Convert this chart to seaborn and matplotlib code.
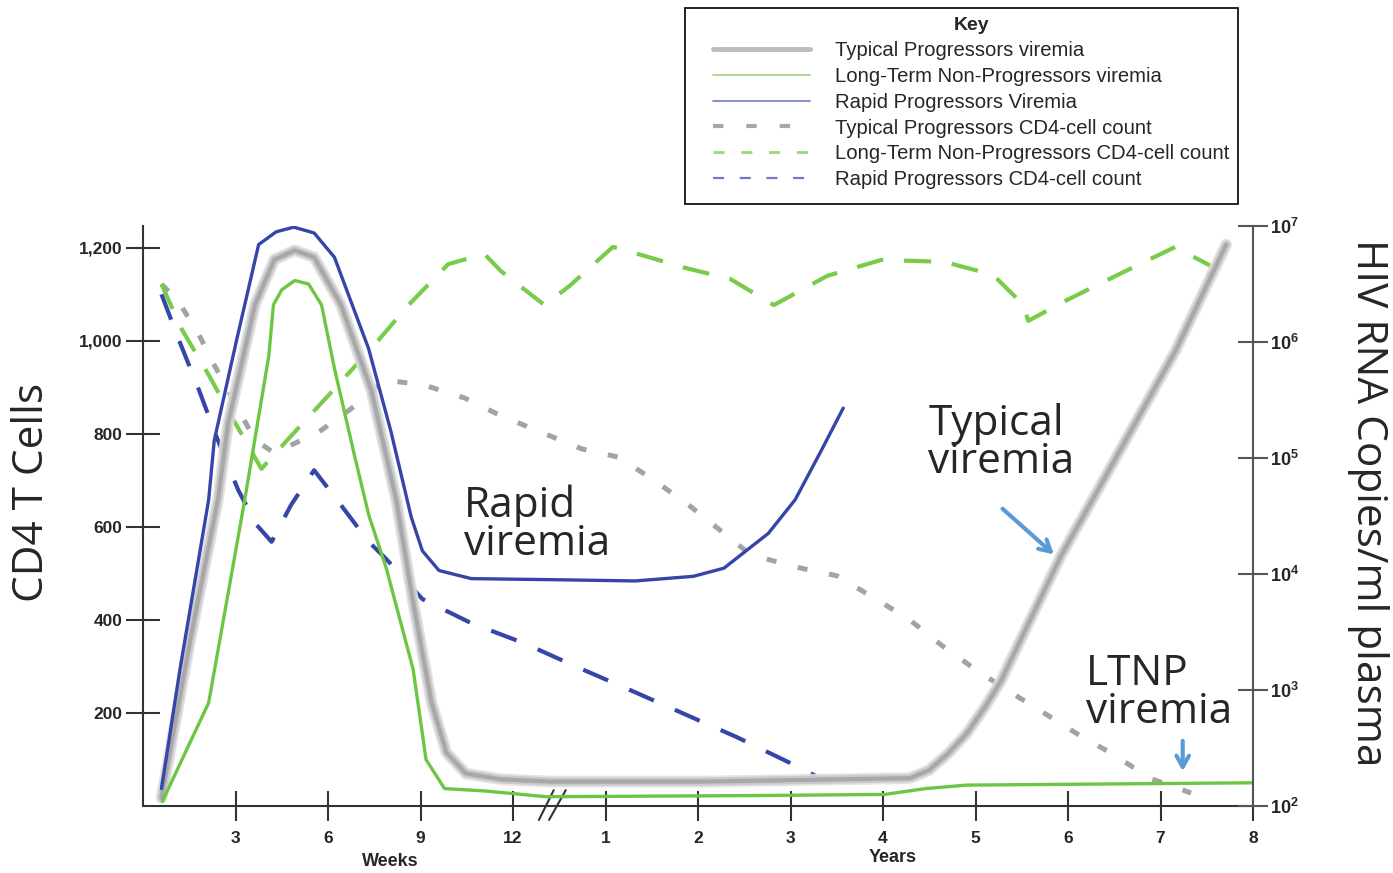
import numpy as np
import seaborn as sns
import matplotlib.pyplot as plt
from matplotlib.lines import Line2D
from matplotlib.patches import Rectangle
from matplotlib.ticker import NullLocator

sns.set_style("white")
plt.rcParams['font.family'] = ['Liberation Sans', 'DejaVu Sans']
plt.rcParams['mathtext.fontset'] = 'custom'
plt.rcParams['mathtext.bf'] = 'Liberation Sans:bold'
plt.rcParams['mathtext.rm'] = 'Liberation Sans'

# x positions: 1-4 = weeks 3, 6, 9, 12 ; 5-12 = years 1..8
tick_pos = list(range(1, 13))
tick_labels = ['3', '6', '9', '12', '1', '2', '3', '4', '5', '6', '7', '8']

# viremia, log10 copies/ml (right axis)
typ_vir_x = [0.20, 0.52, 0.81, 0.92, 1.21, 1.42, 1.64, 1.85, 2.14, 2.47, 2.74, 2.92, 3.12,
             3.28, 3.49, 3.87, 4.41, 6.03, 8.29, 8.50, 8.70, 8.90, 9.10, 9.27, 9.92, 10.44,
             11.16, 11.71]
typ_vir_log = [2.07, 3.47, 4.64, 5.30, 6.32, 6.71, 6.79, 6.73, 6.32, 5.58, 4.63, 3.76, 2.89,
               2.46, 2.28, 2.23, 2.21, 2.21, 2.24, 2.31, 2.45, 2.62, 2.85, 3.07, 4.15, 4.89,
               5.92, 6.84]

ltnp_vir_x = [0.21, 0.71, 1.10, 1.36, 1.41, 1.50, 1.64, 1.79, 1.93, 2.07, 2.29, 2.44, 2.63,
              2.92, 3.06, 3.26, 3.69, 4.36, 6.62, 8.02, 8.46, 8.90, 12.0]
ltnp_vir_log = [2.04, 2.89, 4.64, 5.88, 6.32, 6.45, 6.53, 6.50, 6.32, 5.77, 5.01, 4.51, 4.05,
                3.18, 2.40, 2.15, 2.13, 2.08, 2.09, 2.10, 2.15, 2.18, 2.20]

rapid_vir_x = [0.20, 0.40, 0.71, 0.77, 1.01, 1.25, 1.44, 1.63, 1.85, 2.07, 2.44, 2.68, 2.90,
               3.02, 3.20, 3.55, 4.52, 5.32, 5.95, 6.28, 6.76, 7.05, 7.33, 7.57]
rapid_vir_log = [2.15, 3.18, 4.64, 5.15, 6.01, 6.84, 6.95, 6.99, 6.94, 6.73, 5.94, 5.23, 4.49,
                 4.20, 4.03, 3.96, 3.95, 3.94, 3.98, 4.05, 4.35, 4.64, 5.06, 5.43]

# CD4 T cell counts (left axis)
typ_cd4_x = [0.20, 0.38, 0.60, 0.77, 0.99, 1.21, 1.42, 1.90, 2.29, 2.61, 3.04, 3.48, 3.87,
             4.30, 4.74, 5.14, 5.52, 5.90, 6.57, 7.10, 7.50, 7.89, 8.29, 8.63, 9.01, 9.36,
             9.74, 10.14, 10.50, 10.88, 11.33]
typ_cd4 = [1122, 1086, 1015, 948, 868, 787, 759, 804, 860, 916, 905, 877, 839,
           804, 768, 750, 701, 647, 540, 512, 495, 449, 400, 346, 292, 247,
           200, 150, 110, 60, 28]

ltnp_cd4_x = [0.20, 0.41, 0.71, 0.99, 1.28, 1.57, 2.07, 2.50, 2.87, 3.30, 3.69, 3.87, 4.34,
              4.61, 5.08, 5.28, 5.86, 6.35, 6.82, 7.40, 7.98, 8.66, 9.19, 9.52, 9.57, 9.95,
              10.58, 11.16, 11.26, 11.79]
ltnp_cd4 = [1122, 1028, 927, 826, 725, 789, 897, 991, 1077, 1165, 1187, 1150, 1077,
            1118, 1202, 1191, 1157, 1133, 1077, 1140, 1174, 1170, 1142, 1077, 1043, 1084,
            1146, 1202, 1191, 1135]

rapid_cd4_x = [0.20, 0.38, 0.60, 0.79, 1.03, 1.23, 1.39, 1.60, 1.85, 2.14, 2.44, 2.63, 3.02,
               3.55, 4.12, 4.69, 5.27, 5.85, 6.42, 6.95, 7.27]
rapid_cd4 = [1100, 1006, 897, 796, 679, 604, 568, 647, 722, 647, 568, 531, 445,
             393, 350, 299, 249, 198, 148, 97, 65]

legend_labels = ['Typical Progressors viremia', 'Long-Term Non-Progressors viremia',
                 'Rapid Progressors Viremia', 'Typical Progressors CD4-cell count',
                 'Long-Term Non-Progressors CD4-cell count', 'Rapid Progressors CD4-cell count']

GREEN = '#6cc644'
BLUE = '#3546a8'
ARROW = '#5b9bd5'

fig = plt.figure(figsize=(13.93, 8.73), dpi=100)
ax = fig.add_axes([143 / 1393, 1 - 806 / 873, 1110 / 1393, 580 / 873])
axr = ax.twinx()

# CD4 dashed lines
sns.lineplot(x=typ_cd4_x, y=typ_cd4, ax=ax, color='#a3a3a3', lw=3.6, sort=False, estimator=None)
ax.lines[-1].set_dashes((2.0, 4.4))
sns.lineplot(x=ltnp_cd4_x, y=ltnp_cd4, ax=ax, color='#78cc4a', lw=3.0, sort=False, estimator=None)
ax.lines[-1].set_dashes((6.5, 5.0))
sns.lineplot(x=rapid_cd4_x, y=rapid_cd4, ax=ax, color=BLUE, lw=3.0, sort=False, estimator=None)
ax.lines[-1].set_dashes((6.5, 5.5))

# viremia lines (log axis)
typ_vir = 10 ** np.array(typ_vir_log)
for lw, c, a in [(8.5, '#e2e2e2', 0.9), (6.0, '#c8c8c8', 0.9), (3.0, '#a8a8a8', 1.0)]:
    sns.lineplot(x=typ_vir_x, y=typ_vir, ax=axr, color=c, lw=lw, alpha=a, sort=False,
                 estimator=None, solid_capstyle='round', solid_joinstyle='round')
sns.lineplot(x=ltnp_vir_x, y=10 ** np.array(ltnp_vir_log), ax=axr, color=GREEN, lw=2.4,
             sort=False, estimator=None)
sns.lineplot(x=rapid_vir_x, y=10 ** np.array(rapid_vir_log), ax=axr, color=BLUE, lw=2.4,
             sort=False, estimator=None)

ax.set_xlim(0, 12)
ax.set_ylim(0, 1247)
axr.set_yscale('log')
axr.set_ylim(1e2, 1e7)

# axes styling
for s in ['top', 'right']:
    ax.spines[s].set_visible(False)
for s in ['top', 'left', 'bottom']:
    axr.spines[s].set_visible(False)
ax.spines['left'].set_color('#333333')
ax.spines['bottom'].set_color('#333333')
ax.spines['left'].set_linewidth(1.5)
ax.spines['bottom'].set_linewidth(1.5)
axr.spines['right'].set_color('#555555')
axr.spines['right'].set_linewidth(1.5)

ax.set_xticks(tick_pos)
ax.set_xticklabels(tick_labels, fontweight='bold', fontsize=12.5)
ax.set_yticks([200, 400, 600, 800, 1000, 1200])
ax.set_yticklabels(['200', '400', '600', '800', '1,000', '1,200'], fontweight='bold', fontsize=12.5)
ax.tick_params(axis='x', bottom=True, direction='inout', length=22, width=1.5, pad=7,
               color='#333333')
ax.tick_params(axis='y', left=True, direction='inout', length=24, width=1.5, pad=3,
               color='#333333')

axr.set_yticks([1e2, 1e3, 1e4, 1e5, 1e6, 1e7])
axr.set_yticklabels([r'$\mathbf{10^{%d}}$' % k for k in range(2, 8)], fontsize=13)
axr.yaxis.set_minor_locator(NullLocator())
axr.tick_params(axis='y', right=True, direction='inout', length=22, width=1.5, pad=1,
                color='#555555')
ax.set_xlabel('')
ax.set_ylabel('')
axr.set_ylabel('')

# axis break marks
ax.plot([4.28, 4.44], [-30, 34], color='#333333', lw=1.5, clip_on=False)
ax.plot([4.39, 4.57], [-30, 34], color='#333333', lw=1.5, clip_on=False)

# labels
fig.text(32 / 1393, 1 - 492 / 873, 'CD4 T Cells', rotation=90, ha='center', va='center',
         fontsize=30.5, family='Open Sans')
fig.text(1368 / 1393, 1 - 503 / 873, 'HIV RNA Copies/ml plasma', rotation=-90, ha='center',
         va='center', fontsize=30.5, family='Open Sans')
fig.text(390 / 1393, 1 - 862 / 873, 'Weeks', ha='center', va='center', fontsize=13, fontweight='bold')
fig.text(893 / 1393, 1 - 858 / 873, 'Years', ha='center', va='center', fontsize=13, fontweight='bold')

# annotations
ax.text(3.47, 692, 'Rapid\nviremia', ha='left', va='top', fontsize=30.5, family='Open Sans',
        linespacing=0.88)
ax.text(8.49, 867, 'Typical\nviremia', ha='left', va='top', fontsize=30.5, family='Open Sans',
        linespacing=0.88)
ax.text(10.19, 330, 'LTNP\nviremia', ha='left', va='top', fontsize=30.5, family='Open Sans',
        linespacing=0.88)
ax.annotate('', xy=(9.87, 537), xytext=(9.27, 643),
            arrowprops=dict(arrowstyle='->,head_width=0.45,head_length=0.8', color=ARROW, lw=3))
ax.annotate('', xy=(11.24, 69), xytext=(11.24, 146),
            arrowprops=dict(arrowstyle='->,head_width=0.45,head_length=0.8', color=ARROW, lw=3))

# legend ("Key")
handles = [
    Line2D([], [], color='#bdbdbd', lw=3.5),
    Line2D([], [], color='#9ad77e', lw=1.2),
    Line2D([], [], color='#6f7bc4', lw=1.2),
    Line2D([], [], color='#a8a8a8', lw=3.0, dashes=(2.5, 5.5)),
    Line2D([], [], color='#9ad77e', lw=2.0, dashes=(4, 6)),
    Line2D([], [], color='#6f7bc4', lw=1.6, dashes=(5, 7)),
]
leg = fig.legend(handles, legend_labels, title='Key', loc='upper left',
                 bbox_to_anchor=(713 / 1393, 1 - 17 / 873), borderaxespad=0, borderpad=0,
                 fontsize=14.6, title_fontproperties={'weight': 'bold', 'size': 14},
                 handlelength=4.78, handletextpad=1.23, labelspacing=0.34, frameon=False)
fig.patches.append(Rectangle((685 / 1393, 1 - 204 / 873), 553 / 1393, 196 / 873,
                             transform=fig.transFigure, fill=False, ec='#111111', lw=1.3))

fig.savefig('out.png', dpi=100)
